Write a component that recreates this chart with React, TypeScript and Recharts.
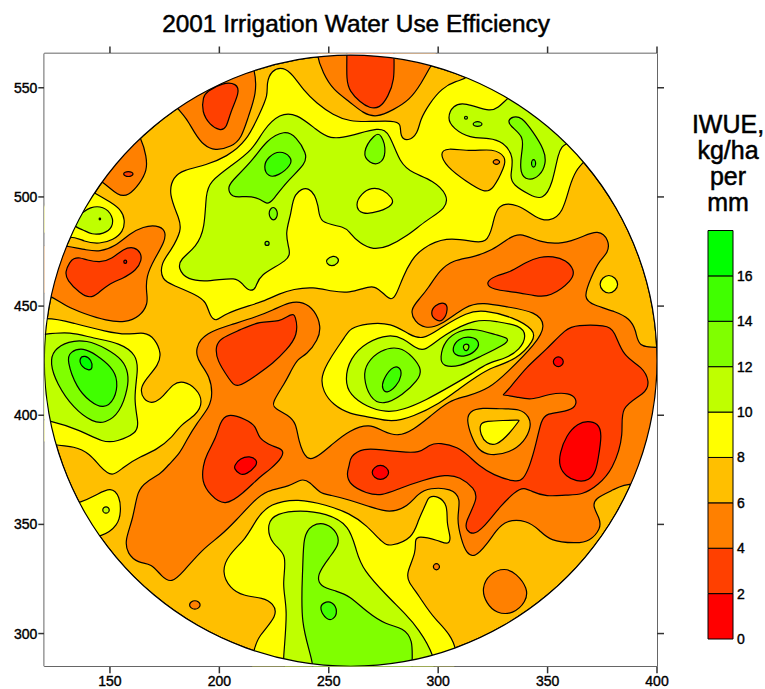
import React from 'react';
import { ScatterChart, Scatter, XAxis, YAxis, BarChart, Bar } from 'recharts';

type Pts = number[][];

const levelColors = ['#FF0000', '#FF4000', '#FF8000', '#FFBF00', '#FFFF00', '#BFFF00', '#80FF00', '#40FF00', '#00FF00'];
const xTicks = [150, 200, 250, 300, 350, 400];
const yTicks = [300, 350, 400, 450, 500, 550];
const legendTicks = [0, 2, 4, 6, 8, 10, 12, 14, 16];
const legendBands = [2, 2, 2, 2, 2, 2, 2, 2, 2];
const legendTitle = ['IWUE,', 'kg/ha', 'per', 'mm'];

const rim: Pts = [[400.7,425],[398.6,449.4],[392.2,473.1],[381.8,495.4],[367.8,515.4],[350.4,532.8],[330.4,546.8],[308.1,557.2],[284.4,563.6],[260,565.7],[235.6,563.6],[211.9,557.2],[189.6,546.8],[169.6,532.8],[152.2,515.4],[138.2,495.4],[127.8,473.1],[121.4,449.4],[119.3,425],[121.4,400.6],[127.8,376.9],[138.2,354.6],[152.2,334.6],[169.6,317.2],[189.6,303.2],[211.9,292.8],[235.6,286.4],[260,284.3],[284.4,286.4],[308.1,292.8],[330.4,303.2],[350.4,317.2],[367.8,334.6],[381.8,354.6],[392.2,376.9],[398.6,400.6]];
const outsideRing: Pts = [[435.9,425],[433.2,455.5],[425.3,485.2],[412.3,513],[394.7,538.1],[373.1,559.7],[348,577.3],[320.2,590.3],[290.5,598.2],[260,600.9],[229.5,598.2],[199.8,590.3],[172,577.3],[146.9,559.7],[125.3,538.1],[107.7,513],[94.7,485.2],[86.8,455.5],[84.1,425],[86.8,394.5],[94.7,364.8],[107.7,337],[125.3,311.9],[146.9,290.3],[172,272.7],[199.8,259.7],[229.5,251.8],[260,249.1],[290.5,251.8],[320.2,259.7],[348,272.7],[373.1,290.3],[394.7,311.9],[412.3,337],[425.3,364.8],[433.2,394.5]];

// 4-6 level
const orangeTop: Pts = [[244,566],[247.4,556.6],[252,549],[259.6,543.6],[265.7,538.3],[271.8,536.3],[279.4,539.8],[287,544.4],[292.3,552],[296.6,560],[300,566],[300,578],[244,578]];
const orangeNorthWest: Pts = [[181.2,540.1],[185,536],[188.8,529.1],[192.6,523.8],[197.9,521],[205.6,523],[210.1,526.8],[213.2,536.8],[217,547.4],[216.5,558.1],[212,568],[175,548]];
const orangeWestSmall: Pts = [[164.5,526.8],[166.7,518.4],[167,512.3],[163.7,506.2],[158.4,500.4],[153.8,500.4],[146.9,507],[138,512],[158,538]];
const orangeWest: Pts = [[115,480],[131.7,477.2],[139.3,475.7],[145.4,474.9],[152.3,477.2],[159.1,483.3],[165.2,486.4],[171.3,487.1],[175.6,484.8],[175.1,479.5],[170.5,471.9],[166.4,463.5],[166.7,455.8],[167.5,451.2],[163.7,445.1],[156.9,442.4],[148.5,443.2],[137.8,446.7],[130.2,449.7],[123.4,454.6],[110,460]];
const orangeMain: Pts = [[189.6,430.6],[191.1,434.5],[195.7,438.3],[204.8,441.3],[217,445.1],[224.6,448.2],[232.2,452],[238.3,452],[243.6,448.2],[246.6,440.6],[245.1,434.5],[239.8,427.6],[236,426.1],[232.9,420.7],[229.9,414.6],[223.8,405.4],[225.3,403.1],[231.4,400.1],[235.2,396.3],[236,388.6],[239.8,378.7],[245.1,381],[252,387.1],[259.6,393.2],[268.7,396.3],[274.8,392.5],[281.7,390.2],[288.5,393.2],[296.1,399.3],[305.3,407],[312.9,408.5],[323.5,412.3],[331.1,419.2],[344.8,432.9],[349.4,441.3],[344.8,447.4],[331.1,449.7],[320.5,451.6],[312.9,450.5],[300.7,440.6],[293.8,439.8],[289.3,442.8],[287,448.2],[291.6,453.5],[295.4,458.1],[300.7,466.5],[306.8,471.1],[315.9,472.3],[325,475.7],[331.1,480.3],[337.2,484.1],[346.4,479],[357,478.4],[366.1,481.8],[373,485.1],[378.3,480.3],[377.6,474.2],[373.8,471.1],[370,463.5],[366.1,453.5],[370.7,450.5],[381.4,447.4],[387.4,444.4],[390.5,439],[391.3,431.1],[400.4,431.1],[418,431],[418,365],[389,370.3],[379.8,365.7],[371.5,361.9],[370.7,358.1],[373.8,352.8],[374.5,348.2],[369.2,342.1],[363.1,341.3],[350.9,342.4],[346.4,347.4],[340.3,352],[331.1,352],[326.6,347.4],[322,340.5],[316.7,334.7],[312.9,336.7],[310.6,342.8],[308.3,352.8],[310.6,361.9],[306,366.5],[296.1,366.8],[290.8,364.2],[286.2,358.1],[277.9,355.1],[268.7,358.1],[259.6,361.2],[250.5,363.5],[245.9,364.2],[241.3,369.6],[237.5,371.1],[232.2,367.3],[221.5,365.7],[215.4,360.4],[207.8,352],[200.2,344.4],[192.6,339],[183.5,328.3],[178.2,323],[173.6,326],[169,332.2],[162.9,332.2],[157.9,336.7],[156.8,342.8],[160.7,352.8],[162.5,365.7],[166.7,369.6],[173.6,373.4],[176.6,377.2],[182,382.5],[185,388.6],[189.6,396.3],[195.7,403.9],[196.9,410],[195.7,417.7],[191.1,423.8],[189.6,427.6]];
const orangeDotSouth: Pts = [[185.2,313.1],[188.8,316],[192.4,313.1],[188.8,310.2]];
const orangeDotMid: Pts = [[297.1,330.6],[299.2,332.7],[301.3,330.6],[299.2,328.5]];
const orangeBlob: Pts = [[319.7,320.7],[323.5,327.6],[330.4,330.2],[335.7,327.6],[341,320.7],[340.3,314.6],[334.2,308.8],[326.6,309.2],[322,313.8]];

// 2-4 level
const redTop: Pts = [[259.6,548.2],[264.2,543.6],[268.7,540.6],[273.3,540.6],[277.1,545.9],[280.1,553.6],[279.7,564.2],[280,574],[258,574],[258.4,565],[258,553.6]];
const redNorthWest: Pts = [[192.6,545.9],[191.9,539],[195.7,532.9],[200.2,530.3],[203.3,531.4],[204.8,538.3],[209.4,548.2],[207.8,552],[201.7,552.5],[194.1,548.2]];
const redTiny: Pts = [[155.2,510.5],[158.4,512.2],[161.6,510.5],[158.4,508.8]];
const redWest: Pts = [[131.7,470.3],[129.5,465.8],[130.2,461.9],[136.3,455.8],[140.9,453.5],[144.7,455.8],[149.2,460.1],[156.1,462.7],[162.2,466.5],[164.5,471.1],[164.2,474.2],[161.4,477.2],[156.1,476.4],[150.8,471.4],[145.4,469.9],[139.3,471.1],[136.3,472.3],[133.3,471.9]];
const redCentre: Pts = [[198.3,431.4],[200.2,435.2],[209.4,439],[218.5,443.3],[227.6,442.5],[233,446.7],[234.9,445.9],[236,436.7],[230.7,429.9],[224.6,423.8],[217,418.4],[207.8,412],[204.8,416.1],[198.7,425.3]];
const redSouthWest: Pts = [[203.3,401.2],[212.4,398.1],[217,394.8],[217.7,389.4],[224.6,385.6],[229.2,384.5],[229.2,381],[223,374.9],[218.5,371.9],[210.9,364.2],[202.5,358.1],[195.7,363.5],[191.9,369.6],[192.6,377.2],[194.1,381.8],[198.7,390.2],[200.2,396.3]];
const redEast: Pts = [[259.6,381],[265.7,385.1],[274.8,384.1],[282.4,383.3],[291.6,382.5],[296.1,386.8],[300.7,387.4],[309,385.6],[314.4,381],[318.2,377.2],[325,372.6],[335.7,369.3],[338.7,370.3],[341.8,376.4],[344.8,387.1],[347.1,397.8],[349.4,400.9],[358.5,401.6],[363.1,403.9],[363.1,407.7],[360.1,410.3],[350.9,410],[342.5,406.7],[335.7,408.5],[329.6,409.3],[329.6,409.3],[332.7,412.3],[340.3,422.2],[349.4,429.9],[358.5,439.8],[363.1,441.3],[376.8,441.3],[380.6,439],[384.4,426.8],[393.5,422.2],[396.6,415.4],[395.1,410],[382.6,403.9],[385.2,391.7],[379.8,374.9],[373,368],[366.1,363.5],[358.5,363.5],[349.4,362.7],[342.5,365],[338,368],[328.1,358.1],[320.5,348.2],[315.9,345.1],[312.9,347.4],[312.1,350.5],[318.2,361.9],[316.7,366.5],[309.8,371.9],[303.7,372.9],[293.1,370.3],[282.4,366.5],[274.1,363],[267.2,364.2],[259.6,368],[258,373.4],[259.6,377.2]];
const redNorthEast: Pts = [[321.2,460.7],[326.6,464.2],[332.7,465.3],[340.3,470.3],[346.4,472.6],[352.4,472.9],[358.5,471.1],[362.3,466.5],[361.6,461.9],[350.9,454],[344.8,454.6],[334.2,456.6],[325,457.4]];
const redPatch: Pts = [[296.4,446.7],[298.4,450.5],[303,452],[304.8,449],[302.2,442.5],[298.4,443.6]];

// 0-2 level
const deepTiny: Pts = [[156,470.3],[157,471.4],[158,470.3],[157,469.2]];
const deepSouthWest: Pts = [[207.1,377.2],[209.4,380.2],[213.9,381.5],[217.3,379.5],[217,376.7],[212.4,372.9],[209.4,372.6],[206.6,375.7]];
const deepDotMid: Pts = [[268,373.8],[273.6,378.6],[279.2,373.8],[273.6,369]];
const deepEast: Pts = [[355.5,382.5],[358.5,390.9],[363.9,396.3],[368.4,397.5],[373,396.3],[375,391.7],[373,379.5],[372.2,374.9],[369.2,369.9],[363.1,369.6],[358.5,371.9],[355.2,376.4]];
const deepDotEast: Pts = [[351.5,424.5],[354.9,427.9],[358.3,424.5],[354.9,421.1]];

// 6-8 holes
const amberPocket: Pts = [[312.9,397.8],[314.4,401.9],[319.7,403.5],[329.6,402.8],[337.2,403.1],[341.8,399.3],[342.5,394.7],[339.5,387.9],[332.7,382.8],[323.5,381.3],[318.2,384.1],[315.2,390.2]];
const amberHole: Pts = [[300.7,520],[303.7,522.6],[315.2,520.7],[325,522.3],[331.1,518.4],[330.4,513.9],[325,503.2],[321.2,501.9],[312.9,507],[303.7,513.9]];
const orangeInHole: Pts = [[324.4,516],[326.6,517.6],[328.8,516],[326.6,514.4]];

// 8-10 level
const yellowPocket: Pts = [[318.9,396.3],[322,397.3],[329.6,397.6],[337.2,397.8],[337.2,397.8],[332.7,391.7],[326.6,385.9],[322,387.1],[319.3,390.9]];
const yellowNorth: Pts = [[221.5,552],[223.8,558.1],[229.2,559.7],[233.7,555.8],[238.3,549],[244.4,542.9],[252,537.5],[259.6,534.5],[268.7,534.5],[279.4,534.9],[283.2,533.7],[282.4,527.6],[286.2,525.3],[290.8,529.1],[291.6,535.2],[296.1,542.9],[301.5,549.7],[308.3,553.3],[313.6,553.9],[320,564],[360,548],[378,527],[366.1,515.8],[363.1,512.3],[360.1,505.5],[357,492.5],[350.9,488.7],[344.8,490.2],[336.5,497],[326.6,497],[325,486.4],[322,478.7],[315.9,479.5],[303.7,481.8],[292.3,476.4],[287.8,471.1],[283.9,463.5],[280.9,455.1],[278.6,452.5],[275.6,455.1],[271,459.6],[265.7,458.1],[259.6,456.1],[252,456.6],[242.8,458.9],[233.7,457.7],[227.6,455.8],[220,452],[209.4,449],[201.7,445.9],[198.7,442.9],[195.7,445.1],[194.1,452],[189.6,455.1],[178.9,459.6],[173.6,461.9],[173.1,469.6],[178.2,475.7],[182.7,484.8],[182,489.4],[176.6,501.6],[179,509.3],[183.5,512.3],[194.1,514.6],[203.3,518.4],[212.4,525.3],[218.5,538.3],[222.3,546.7]];
const yellowWest: Pts = [[121.8,445.4],[133.3,442.1],[148.5,438.3],[157.6,436.7],[166,438.3],[170.5,435.2],[173.6,428.3],[172.1,423],[166.7,416.9],[163.7,412.3],[165.2,407],[169.8,405.1],[174.4,408.5],[178.9,414.6],[183.5,415.8],[189.6,412.3],[192.6,406.2],[189.6,400.1],[182,395.5],[178.9,390.2],[171.3,384.1],[163.7,381],[156.1,376.4],[151.1,371.4],[145.4,376.4],[140.9,382.5],[133.3,385.9],[126.4,385.9],[108,390],[105,442]];
const yellowSouthWest: Pts = [[137.1,360.1],[143.9,363.5],[150.5,367.3],[154.6,362.7],[155,355.8],[153.8,349.7],[146.5,343.9],[133,343],[122,356]];
const yellowNorthWest: Pts = [[143.9,501.3],[150,497.8],[155.3,494],[156.9,489.4],[156.1,484.1],[151.5,480.3],[145.4,478.4],[137.8,479.5],[133.3,482.6],[113,480],[125,512]];
const yellowCentre: Pts = [[259.6,439.8],[267.2,442.1],[278.6,442.4],[287,436.7],[293.1,434.5],[300.7,439.8],[313.6,447.4],[320.5,448.2],[334.2,445.1],[344.1,439],[344.1,434.5],[335.7,425.3],[325,422.2],[317.4,417.7],[309.8,412.3],[300.7,405.4],[288.5,399.3],[278.6,396.6],[268.7,399.3],[259.6,400.5],[252,404.7],[247.4,410.8],[246.2,417.7],[250.5,426.1],[258,436.7]];
const yellowDotEast: Pts = [[372,460],[378,466],[384,460],[378,454]];
const yellowSouth: Pts = [[215.4,292.4],[217.7,298.6],[226.9,308.5],[224.6,313.8],[220,316.4],[210.9,317.2],[204.8,320.7],[201,328.3],[204,336],[212.4,343.6],[217,352.8],[223.1,359.6],[236,361.9],[248.9,358.9],[259.6,355.1],[267.2,349.7],[274.8,341.3],[277.9,339.8],[288.5,343.6],[290.8,352],[294.6,359.6],[295.4,362.7],[299.9,363.2],[304.5,358.9],[303.7,350.5],[306,343.6],[304.5,340.5],[299.9,342.8],[290.8,344.8],[289.3,342.8],[290,337.5],[285.5,327.6],[286.2,323.8],[291.6,316.9],[297.6,307],[311.3,294.7],[305,268],[212,268]];
const yellowInLime: Pts = [[261.9,496.3],[264.9,501.6],[269.5,504.4],[274.8,503.5],[279.4,499.3],[279.4,496.3],[273.3,493.2],[264.9,491.7]];

// 10-12 level
const limeNorth: Pts = [[182,471.4],[189.6,477.2],[193.4,485.6],[193.8,501.6],[195.7,507],[204.8,513.9],[215.4,521.5],[220,530.7],[227.6,538.3],[235.2,538.3],[244.4,530.7],[250.5,526.4],[259.6,527.6],[273.3,532.2],[277.9,529.1],[282.4,515.4],[288.5,510.8],[297.6,507.7],[304.5,500.9],[303.7,494.8],[294.6,489.4],[285.5,481.8],[277.1,477.2],[270.3,475.7],[264.2,478.7],[259.6,483.3],[258.1,486.4],[245.1,487.9],[245.9,495.5],[241.3,505.9],[233.7,501.6],[233,492.5],[229.9,483.3],[232.2,475.7],[232.2,471.1],[217.7,464.2],[217,458.1],[213.9,456.6],[210.9,459.6],[207.8,463.5],[195.7,461.2],[185,461.9],[181.2,467.3]];
const limeDot: Pts = [[248.6,471.1],[252,473.4],[254.7,471.9],[254.3,469.6],[251.2,468],[249,469.6]];
const limeNorthEast: Pts = [[304,536],[306.8,542.1],[312.1,543.3],[323.5,539],[327.3,540.6],[331.9,545.5],[345,556],[378,526],[357.8,526.1],[354.7,520],[352.4,506.2],[347.9,498.3],[341.8,500.9],[334.2,505.5],[332.7,509.3],[334.9,518.4],[329.6,525.3],[323.5,527.1],[314.4,526.8],[306.8,531.4]];
const limeWestRing: Pts = [[136.6,492],[140.9,495.5],[147,495.8],[151.4,491.4],[151.4,486],[147,483],[141.6,482.7],[137.8,485],[133,486.5],[133,490.5]];
const limeCentre: Pts = [[259.6,426.1],[267.2,433.7],[277.9,437.2],[284,435.2],[290,430.6],[293.8,429.1],[302.2,436.7],[317.4,444.4],[326.6,442.9],[337.2,441.3],[340.7,436.7],[337.2,429.9],[331.1,426.1],[322,423.8],[315.9,419.2],[305.3,413.1],[294.6,407],[283.9,402.4],[276.3,401.2],[267.2,403.9],[259.6,409.3],[257.3,416.1]];
const limeWest: Pts = [[120.8,437.2],[131.7,438.3],[142.4,435.2],[154.6,433.2],[162.2,427.6],[162.9,420.7],[160.7,407],[163.2,396.3],[162.2,391.7],[153.1,387.9],[147,387.4],[136.3,393.2],[123.4,397.5],[108,400],[105,435]];
const limeSouth: Pts = [[229.1,288.6],[231.4,311.5],[228.4,322.2],[231.4,336.7],[223.8,340.6],[221.5,350.5],[226.1,355.1],[236.8,356.6],[248.9,355.1],[259.6,349.7],[262.6,337.5],[265.7,329.1],[276.3,317.6],[285.5,308.5],[290.8,302.4],[298.4,290.2],[300,276],[229,276]];
const limeSouthWest: Pts = [[146,356.6],[148.2,358.8],[150.4,356.6],[148.2,354.4]];

// 12-14 level
const greenNorth: Pts = [[203.3,504.7],[207.8,509.3],[215.4,516.9],[221.5,526],[229.9,530.7],[235.2,527.6],[239.8,520],[239.8,515.4],[230.7,507],[224.6,498.6],[221.8,496.3],[218.5,499.3],[212.4,500.6],[205.6,499.3]];
const greenOval: Pts = [[221.8,492.5],[224.6,496.5],[227.4,492.5],[224.8,488]];
const greenSpeck: Pts = [[220.4,478.7],[221.8,480.1],[223.2,478.7],[221.8,477.3]];
const greenNorthMid: Pts = [[264.9,520],[271,529.1],[274.1,529.1],[276.6,520],[273.3,514.6],[268.7,515.4]];
const greenNorthEast: Pts = [[331.9,535.2],[334.2,536.8],[338,536.8],[343.3,529.9],[348.6,521.5],[349.4,515.4],[346.4,509.3],[341,507.3],[337.2,510.8],[338,520],[339.5,527.6],[332.7,532.5]];
const greenSpeckNE: Pts = [[311.7,536.3],[312.7,537.3],[313.7,536.3],[312.7,535.3]];
const greenOvalNE: Pts = [[315,533.4],[318,535],[321,533.4],[318,531.8]];
const greenCentreLeft: Pts = [[265.7,417.7],[267.2,423.8],[273.3,429.9],[282.4,431.7],[288.5,426.8],[292.8,420.7],[290.8,416.1],[283.9,409.3],[274.8,404.4],[268.7,407.7]];
const greenCentreRight: Pts = [[300.7,426.1],[303,434.5],[309.8,439],[316.7,439.8],[326.6,436.7],[333,435.2],[330.4,432.2],[319,426.8],[309.8,422.2],[302.2,422.2]];
const greenWest: Pts = [[122.6,423.8],[124.1,429.9],[131,434],[139.3,434.5],[148.5,430.6],[156.1,425.3],[158.4,419.2],[158.4,413.1],[154.6,400.9],[147.7,396.3],[142.4,396.6],[133.3,403.1],[125.6,414.6]];
const greenSouth: Pts = [[243.6,286.3],[236.8,303.9],[238.3,331.4],[238.3,344.4],[242.1,350],[248.9,350.9],[254.3,345.9],[254.7,340.6],[250.5,335.2],[244.4,326.8],[245.9,321.5],[253.5,319.5],[259.6,317.3],[267.2,310],[276.3,303.9],[284,302.8],[288.5,297],[288,287.1],[288,272],[243,272]];
const greenSmallInner: Pts = [[311.3,432.2],[313.6,432.9],[314.4,431.1],[312.9,429.1],[311.6,430.2]];

// 14-16 level
const brightNorth: Pts = [[220,513.9],[222.3,518.4],[227.6,521.5],[233,518.4],[233,514.6],[226.9,509.6],[222.3,509]];
const brightCentreLeft: Pts = [[274.4,415.4],[278.6,422.2],[282.4,422.5],[283.6,418.4],[280.9,413.1],[276.3,409.7],[274.4,412.3]];
const brightCentreRight: Pts = [[306.3,430.6],[309,435.2],[315.2,436.3],[319.3,433.7],[317.4,429.1],[311.3,426.5],[307.5,427.6]];
const brightWest: Pts = [[130.2,425.3],[131.7,429.1],[137.8,431.1],[143.9,427.6],[150.8,422.2],[153.8,416.1],[152.3,407],[147,402.8],[140.9,406.2],[134.8,412.3]];
const brightSouth: Pts = [[245.6,311.5],[247.4,314.3],[251.7,314.9],[254.3,310],[252,306.2],[249,306.2]];
const brightOvalNE: Pts = [[342.2,515.4],[343.6,518],[345,515.4],[343.6,512.8]];
const brightDotNW: Pts = [[144.9,489.9],[145.4,490.5],[145.9,489.9],[145.4,489.3]];

// 16-18 level
const peakWest: Pts = [[135.7,426.1],[138.6,427.6],[141.6,425.3],[142.1,421.5],[140.6,420.3],[137.1,421.9]];

// painted in order: [outline, index into levelColors]
const layers: [Pts, number][] = [
  [rim, 3],
  [orangeMain, 2], [orangeTop, 2], [orangeNorthWest, 2], [orangeWestSmall, 2], [orangeWest, 2],
  [orangeDotSouth, 2], [orangeDotMid, 2], [orangeBlob, 2],
  [redTop, 1], [redNorthWest, 1], [redTiny, 1], [redWest, 1], [redCentre, 1], [redSouthWest, 1],
  [redEast, 1], [redNorthEast, 1], [redPatch, 1],
  [deepTiny, 0], [deepSouthWest, 0], [deepDotMid, 0], [deepEast, 0], [deepDotEast, 0],
  [amberPocket, 3], [yellowPocket, 4],
  [yellowNorth, 4], [yellowWest, 4], [yellowSouthWest, 4], [yellowNorthWest, 4], [yellowCentre, 4],
  [yellowDotEast, 4], [yellowSouth, 4],
  [amberHole, 3], [orangeInHole, 2],
  [limeNorth, 5], [limeDot, 5], [limeNorthEast, 5], [limeWestRing, 5], [limeCentre, 5], [limeWest, 5],
  [limeSouth, 5], [limeSouthWest, 5], [yellowInLime, 4],
  [greenNorth, 6], [greenOval, 6], [greenSpeck, 6], [greenNorthMid, 6], [greenNorthEast, 6],
  [greenSpeckNE, 6], [greenOvalNE, 6], [greenCentreLeft, 6], [greenCentreRight, 6], [greenWest, 6], [greenSouth, 6],
  [brightNorth, 7], [brightCentreLeft, 7], [brightCentreRight, 7], [brightWest, 7], [brightSouth, 7],
  [brightOvalNE, 7], [brightDotNW, 7], [greenSmallInner, 6],
  [peakWest, 8],
];

const toRows = (pts: Pts) => pts.map(([x, y]) => ({ x, y }));
const legendRow = [{ cat: 'IWUE', ...Object.fromEntries(legendBands.map((v, i) => [`b${i}`, v])) }];

const FONT = '"Liberation Sans", Arial, sans-serif';
const tickStyle = { fontSize: 14, fontFamily: FONT, fill: '#000', stroke: '#000', strokeWidth: 0.4 };
const axisStroke = { stroke: '#333', strokeWidth: 1.5 };
const noDot = () => null;

export default function App() {
  return (
    <div style={{ position: 'absolute', left: 0, top: 0, width: 765, height: 689, background: '#fff', overflow: 'hidden' }}>
      <div style={{ position: 'absolute', left: 0, top: 10, width: 712, textAlign: 'center', fontFamily: FONT, fontSize: 24.4, lineHeight: '28px', color: '#000', WebkitTextStroke: '0.5px #000' }}>
        2001 Irrigation Water Use Efficiency
      </div>
      {legendTitle.map((t, i) => (
        <div key={t} style={{ position: 'absolute', left: 688, top: 110 + i * 26, width: 80, textAlign: 'center', fontFamily: FONT, fontSize: 25, lineHeight: '28px', color: '#000', WebkitTextStroke: '0.5px #000' }}>
          {t}
        </div>
      ))}
      <div style={{ position: 'absolute', left: 0, top: 0 }}>
        <ScatterChart width={765} height={689} margin={{ top: 0, right: 0, bottom: 0, left: 0 }}>
          <XAxis xAxisId={0} type="number" dataKey="x" orientation="bottom" height={22.7} domain={[120, 400]} ticks={xTicks} allowDataOverflow tick={tickStyle} tickSize={7} tickMargin={3} axisLine={axisStroke} tickLine={axisStroke} interval={0} />
          <XAxis xAxisId="top" type="number" dataKey="x" orientation="top" height={53.5} domain={[120, 400]} ticks={xTicks} allowDataOverflow tickFormatter={() => ''} tickSize={7} axisLine={axisStroke} tickLine={axisStroke} interval={0} />
          <YAxis yAxisId={0} type="number" dataKey="y" orientation="left" width={44.3} domain={[285, 565.7]} ticks={yTicks} allowDataOverflow tick={tickStyle} tickSize={6} tickMargin={1} axisLine={axisStroke} tickLine={axisStroke} interval={0} />
          <YAxis yAxisId="right" type="number" dataKey="y" orientation="right" width={108} domain={[285, 565.7]} ticks={yTicks} allowDataOverflow tickFormatter={() => ''} tickSize={7} axisLine={axisStroke} tickLine={axisStroke} interval={0} />
          {layers.map(([pts, level], i) => (
            <Scatter key={i} data={toRows(pts)} xAxisId={0} yAxisId={0} isAnimationActive={false} shape={noDot} legendType="none"
              line={{ fill: levelColors[level], stroke: '#000', strokeWidth: 1.2 }} lineType="joint" lineJointType="basisClosed" />
          ))}
          <Scatter data={toRows(outsideRing)} xAxisId={0} yAxisId={0} isAnimationActive={false} shape={noDot} legendType="none"
            line={{ fill: 'none', stroke: '#fff', strokeWidth: 153 }} lineType="joint" lineJointType="basisClosed" />
          <Scatter data={toRows(rim)} xAxisId={0} yAxisId={0} isAnimationActive={false} shape={noDot} legendType="none"
            line={{ fill: 'none', stroke: '#000', strokeWidth: 1.2 }} lineType="joint" lineJointType="basisClosed" />
        </ScatterChart>
      </div>
      <div style={{ position: 'absolute', left: 700, top: 220 }}>
        <BarChart width={65} height={430} data={legendRow} barCategoryGap={0} margin={{ top: 10.5, right: 0, bottom: 11, left: 8 }}>
          <XAxis dataKey="cat" type="category" hide />
          <YAxis type="number" orientation="right" width={32} domain={[0, 18]} ticks={legendTicks} interval={0} tick={{ ...tickStyle, textAnchor: 'start' }} tickLine={false} axisLine={false} tickSize={0} tickMargin={4} />
          {legendBands.map((_, i) => (
            <Bar key={i} dataKey={`b${i}`} stackId="scale" fill={levelColors[i]} stroke="#000" strokeWidth={1} isAnimationActive={false} />
          ))}
        </BarChart>
      </div>
    </div>
  );
}
